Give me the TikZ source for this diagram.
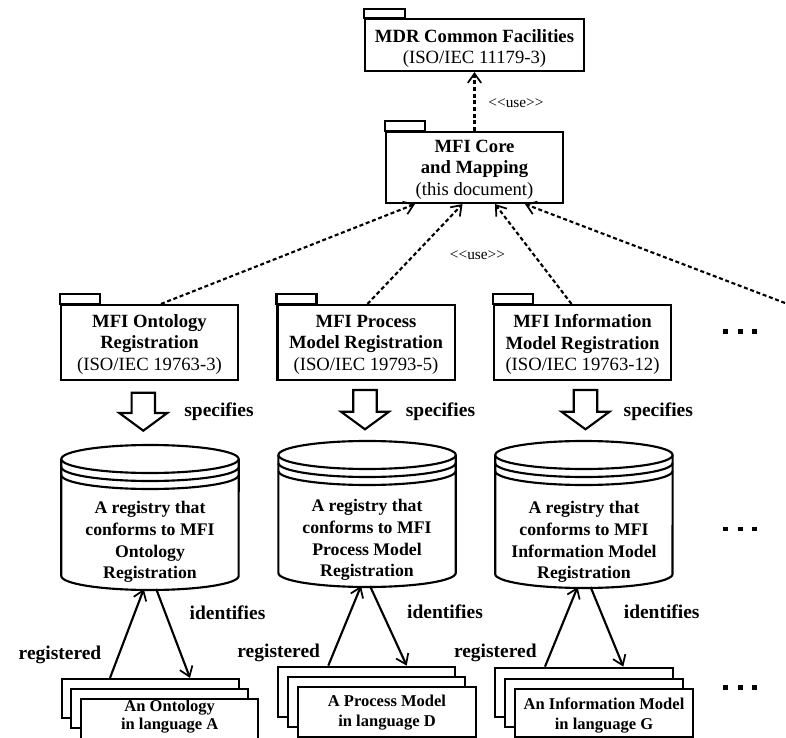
\documentclass[tikz,border=0pt]{standalone}
\usepackage{fontspec}
\setmainfont{Liberation Serif}
\usetikzlibrary{arrows.meta,calc,fit}
\begin{document}
\begin{tikzpicture}[x=0.75pt,y=-0.75pt,line width=1.6pt,
  pkgbox/.style={draw,fill=white,inner sep=0pt},
  pkgtext/.style={font=\fontsize{14}{16.2}\selectfont,align=center,inner sep=0pt},
  usearrow/.style={dash pattern=on 3pt off 2pt,-{Straight Barb[length=7pt,width=10pt,line width=1.3pt]}},
  regarrow/.style={-{Straight Barb[length=7pt,width=10pt,line width=1.3pt]}},
  uselbl/.style={font=\fontsize{11.5}{13}\selectfont,inner sep=0pt},
  lbl/.style={font=\bfseries\fontsize{14.6}{17}\selectfont,inner sep=0pt},
  cyltext/.style={font=\bfseries\fontsize{13.3}{16.4}\selectfont,align=center,inner sep=0pt},
  doctext/.style={font=\bfseries\fontsize{12.4}{15}\selectfont,align=center,inner sep=0pt},
  docbox/.style={draw,fill=white,inner sep=0pt},
  blockarrow/.style={draw,fill=white},
  cylshape/.style={draw,fill=white},
  dotsq/.style={fill=black,inner sep=0pt,minimum size=3.6pt}
]
\useasboundingbox (0,0) rectangle (786,738);

% ---------- top packages ----------
\node[pkgbox,fit={(365,19)(584,71)}] (mdr) {};
\draw (mdr.north west) rectangle ++(41,-9);
\node[pkgtext] (mdrt) at (474.5,48.5) {\textbf{MDR Common Facilities}\\(ISO/IEC 11179-3)};

\node[pkgbox,fit={(386,132)(563,203)}] (core) {};
\draw (core.north west) rectangle ++(40,-10);
\node[pkgtext] (coret) at (474.5,169.5) {\textbf{MFI Core}\\\textbf{and Mapping}\\(this document)};

\draw[usearrow] (core.north) -- (mdr.south);
\node[uselbl] (use1) at (516,103) {<{}<use>{}>};

% ---------- second row packages ----------
\node[pkgbox,fit={(61,305)(238,380)}] (ont) {};
\draw (ont.north west) rectangle ++(40,-10);
\node[pkgtext] (ontt) at (149.5,344.5) {\textbf{MFI Ontology}\\\textbf{Registration}\\(ISO/IEC 19763-3)};

\node[pkgbox,fit={(277.5,305)(455,380)}] (proc) {};
\draw (proc.north west) rectangle ++(40,-10);
\node[pkgtext] (proct) at (366,344.5) {\textbf{MFI Process}\\\textbf{Model Registration}\\(ISO/IEC 19793-5)};

\node[pkgbox,fit={(494,305)(671,380)}] (info) {};
\draw (info.north west) rectangle ++(40,-10);
\node[pkgtext] (infot) at (582.5,344.5) {\textbf{MFI Information}\\\textbf{Model Registration}\\(ISO/IEC 19763-12)};

\coordinate (offright) at (810,312.5);
\draw[usearrow] (161,0 |- ont.north) -- (415,0 |- core.south);
\draw[usearrow] (367.5,0 |- proc.north) -- (462.5,0 |- core.south);
\draw[usearrow] (571.5,0 |- info.north) -- (495,0 |- core.south);
\draw[usearrow] (offright) -- (525,0 |- core.south);
\node[uselbl] (use2) at (477.5,255) {<{}<use>{}>};

\node[dotsq] (d1a) at (725.8,331.7) {};
\node[dotsq] (d1b) at (740.8,331.7) {};
\node[dotsq] (d1c) at (754.2,331.7) {};

% ---------- block arrows ----------
\draw[blockarrow] (131.6,392.7) -- (155,392.7) -- (155,413) -- (167.3,413) -- (143.3,430.7) -- (119.3,413) -- (131.6,413) -- cycle;
\draw[blockarrow] (353.3,390) -- (376.7,390) -- (376.7,411.7) -- (389,411.7) -- (365,429.3) -- (341,411.7) -- (353.3,411.7) -- cycle;
\draw[blockarrow] (573.8,390) -- (597.2,390) -- (597.2,411.7) -- (609.5,411.7) -- (585.5,429.3) -- (561.5,411.7) -- (573.8,411.7) -- cycle;
\node[lbl] (spec1) at (219,411.7) {specifies};
\node[lbl] (spec2) at (440.5,411.7) {specifies};
\node[lbl] (spec3) at (658.3,411.7) {specifies};

% ---------- cylinders ----------
% col 1
\draw[cylshape] (61.3,459) -- (61.3,576) arc[start angle=180,end angle=360,x radius=66.5pt,y radius=10.5pt] -- (238.7,459);
\draw[cylshape] (150,459) ellipse[x radius=66.5pt,y radius=10.5pt];
\draw (61.3,467) arc[start angle=180,end angle=360,x radius=66.5pt,y radius=10.5pt];
\draw (61.3,475) arc[start angle=180,end angle=360,x radius=66.5pt,y radius=10.5pt];
\node[cyltext] (cyl1) at (150,542) {A registry that\\conforms to MFI\\Ontology\\Registration};
% col 2
\draw[cylshape] (278.4,455) -- (278.4,573) arc[start angle=180,end angle=360,x radius=66.5pt,y radius=10.5pt] -- (455.8,455);
\draw[cylshape] (367.1,455) ellipse[x radius=66.5pt,y radius=10.5pt];
\draw (278.4,463) arc[start angle=180,end angle=360,x radius=66.5pt,y radius=10.5pt];
\draw (278.4,471) arc[start angle=180,end angle=360,x radius=66.5pt,y radius=10.5pt];
\node[cyltext] (cyl2) at (367,540) {A registry that\\conforms to MFI\\Process Model\\Registration};
% col 3
\draw[cylshape] (495.2,455) -- (495.2,574) arc[start angle=180,end angle=360,x radius=66.5pt,y radius=10.5pt] -- (672.6,455);
\draw[cylshape] (583.9,455) ellipse[x radius=66.5pt,y radius=10.5pt];
\draw (495.2,463) arc[start angle=180,end angle=360,x radius=66.5pt,y radius=10.5pt];
\draw (495.2,471) arc[start angle=180,end angle=360,x radius=66.5pt,y radius=10.5pt];
\node[cyltext] (cyl3) at (584,542) {A registry that\\conforms to MFI\\Information Model\\Registration};

\node[dotsq] (d2a) at (725.8,529) {};
\node[dotsq] (d2b) at (740.8,529) {};
\node[dotsq] (d2c) at (754.2,529) {};

\coordinate (c1up) at (143.8,589);
\coordinate (c1dn) at (156.2,589);
\coordinate (c2up) at (361,586);
\coordinate (c2dn) at (370,586);
\coordinate (c3up) at (577.6,587);
\coordinate (c3dn) at (590.6,587);

% ---------- document stacks ----------
\node[docbox,fit={(61.7,679)(239.3,718.3)}] (s1b) {};
\node[docbox,fit={(71,689.3)(248.3,728.3)}] (s1m) {};
\node[docbox,fit={(81,699)(258.3,740)}] (s1f) {};
\node[doctext,font=\bfseries\fontsize{12.4}{13.8}\selectfont] (doc1) at (169.7,716.5) {An Ontology\\in language A};

\node[docbox,fit={(278.3,666.7)(455,716.7)}] (s2b) {};
\node[docbox,fit={(288.3,677.3)(465,726.7)}] (s2m) {};
\node[docbox,fit={(298.3,687.3)(476,736.7)}] (s2f) {};
\node[doctext] (doc2) at (387,713) {A Process Model\\in language D};

\node[docbox,fit={(495,667.7)(673.3,717)}] (s3b) {};
\node[docbox,fit={(505,679)(683.3,726.7)}] (s3m) {};
\node[docbox,fit={(515,689.3)(692.7,736.7)}] (s3f) {};
\node[doctext] (doc3) at (604,715.5) {An Information Model\\in language G};

\node[dotsq] (d3a) at (725.8,687.5) {};
\node[dotsq] (d3b) at (740.8,687.5) {};
\node[dotsq] (d3c) at (754.2,687.5) {};

% ---------- registered / identifies ----------
\draw[regarrow] (110,0 |- s1b.north) -- (c1up);
\draw[regarrow] (c1dn) -- (190,0 |- s1b.north);
\draw[regarrow] (328.3,0 |- s2b.north) -- (c2up);
\draw[regarrow] (c2dn) -- (406.7,0 |- s2b.north);
\draw[regarrow] (545,0 |- s3b.north) -- (c3up);
\draw[regarrow] (c3dn) -- (623.3,0 |- s3b.north);

\node[lbl] (reg1) at (60,655) {registered};
\node[lbl] (reg2) at (278.7,653) {registered};
\node[lbl] (reg3) at (495.3,653) {registered};
\node[lbl] (idf1) at (227.5,613) {identifies};
\node[lbl] (idf2) at (445,611.7) {identifies};
\node[lbl] (idf3) at (661.7,612) {identifies};
\end{tikzpicture}
\end{document}
